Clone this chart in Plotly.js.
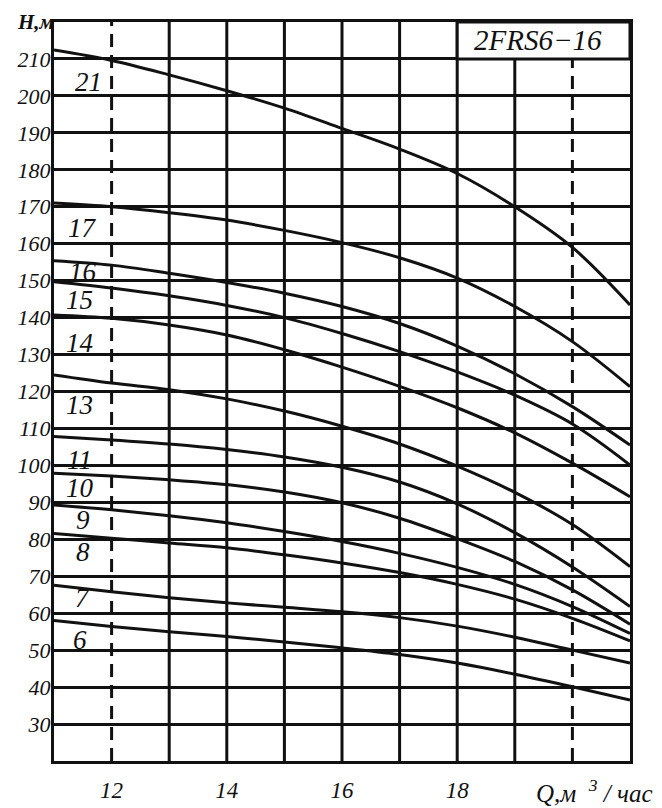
<!DOCTYPE html>
<html>
<head>
<meta charset="utf-8">
<script src="https://cdn.plot.ly/plotly-3.0.1.min.js"></script>
<style>html,body{margin:0;padding:0;background:#fff;}#chart{width:662px;height:808px;}</style>
</head>
<body>
<div id="chart"></div>
<script>
// Flow Q, m3/h
const Q = [11, 12, 13, 14, 15, 16, 17, 18, 19, 20, 21];
// Head H, m for each number of stages
const H21 = [212.4, 209.6, 205.7, 201.4, 196.7, 191.2, 185.6, 179.0, 170.0, 159.0, 143.4];
const H17 = [171.0, 170.0, 168.4, 166.4, 163.6, 160.3, 156.2, 150.7, 143.0, 133.5, 121.3];
const H16 = [155.4, 154.2, 152.0, 149.5, 146.6, 143.0, 138.4, 132.3, 124.8, 115.9, 105.5];
const H15 = [149.7, 148.0, 145.9, 143.3, 140.0, 135.7, 130.8, 125.3, 119.0, 111.2, 100.1];
const H14 = [140.7, 139.8, 138.0, 135.3, 131.3, 126.6, 121.4, 115.6, 108.8, 100.6, 91.5];
const H13 = [124.5, 122.3, 120.5, 118.0, 114.7, 110.6, 105.8, 99.8, 92.7, 84.0, 72.6];
const H11 = [107.8, 106.9, 105.8, 104.3, 102.3, 99.5, 95.5, 89.6, 81.8, 72.5, 61.8];
const H10 = [97.9, 97.1, 96.1, 94.8, 92.8, 89.9, 85.7, 80.2, 74.0, 66.3, 57.0];
const H9  = [89.3, 88.0, 86.4, 84.5, 82.1, 79.4, 76.2, 72.4, 67.8, 61.8, 54.5];
const H8  = [81.6, 80.3, 79.0, 77.7, 75.8, 73.6, 71.0, 67.8, 63.8, 58.6, 52.5];
const H7  = [67.6, 65.8, 64.2, 62.8, 61.6, 60.4, 58.8, 56.5, 53.5, 50.0, 46.5];
const H6  = [58.0, 56.4, 55.0, 53.7, 52.2, 50.6, 48.8, 46.5, 43.5, 40.1, 36.5];

const series = [H21, H17, H16, H15, H14, H13, H11, H10, H9, H8, H7, H6];
const curveNames = ['21', '17', '16', '15', '14', '13', '11', '10', '9', '8', '7', '6'];
// label anchor positions (Q, H)
const labelQ = [11.6, 11.5, 11.5, 11.45, 11.45, 11.45, 11.45, 11.45, 11.5, 11.5, 11.5, 11.45];
const labelH = [203.8, 164.2, 152.3, 144.8, 133.1, 116.3, 101.5, 93.9, 85.2, 76.6, 64.1, 52.8];

const xTicks = [12, 14, 16, 18];
const yTicks = [30, 40, 50, 60, 70, 80, 90, 100, 110, 120, 130, 140, 150, 160, 170, 180, 190, 200, 210];
const solidX = [13, 14, 15, 16, 17, 18, 19];
const dashX = [12, 20];
const title = '2FRS6\u221216';

const FONT = 'Liberation Serif, Times New Roman, serif';

const traces = series.map((h, i) => ({
  x: Q, y: h, type: 'scatter', mode: 'lines', name: curveNames[i],
  line: {color: '#111', width: 3, shape: 'spline', smoothing: 1},
  hoverinfo: 'skip', showlegend: false
}));

const shapes = [];
solidX.forEach(v => shapes.push({type: 'line', xref: 'x', yref: 'paper', x0: v, x1: v, y0: 0, y1: 1,
  line: {color: '#111', width: 3}, layer: 'below'}));
dashX.forEach(v => shapes.push({type: 'line', xref: 'x', yref: 'paper', x0: v, x1: v, y0: 0, y1: 1,
  line: {color: '#111', width: 3, dash: '13px,8px'}, layer: 'below'}));
shapes.push({type: 'rect', xref: 'x', yref: 'y', x0: 18, x1: 21, y0: 210, y1: 220,
  fillcolor: '#fff', line: {color: '#111', width: 3}, layer: 'above'});

const annotations = curveNames.map((n, i) => ({
  x: labelQ[i], y: labelH[i], xref: 'x', yref: 'y', text: n, showarrow: false,
  font: {family: FONT, size: 27, color: '#111', style: 'italic'}
}));
annotations.push({x: 19.4, y: 215, xref: 'x', yref: 'y', text: title, showarrow: false,
  font: {family: FONT, size: 29, color: '#111', style: 'italic'}});
annotations.push({x: 0, y: 1, xref: 'paper', yref: 'paper', xanchor: 'right', yanchor: 'middle',
  xshift: 2, text: 'H,м', showarrow: false,
  font: {family: FONT, size: 21, color: '#111', style: 'italic', weight: 'bold'}});
annotations.push({x: 1, y: 0, xref: 'paper', yref: 'paper', xanchor: 'right', yanchor: 'middle',
  xshift: 24, yshift: -30, text: 'Q,м\u00a0\u00a0<sup>3</sup>\u00a0/\u00a0час', showarrow: false,
  font: {family: FONT, size: 25, color: '#111', style: 'italic'}});

const layout = {
  width: 662, height: 808,
  margin: {l: 54, r: 32, t: 22, b: 47, pad: 0},
  paper_bgcolor: '#fff', plot_bgcolor: '#fff',
  showlegend: false,
  xaxis: {
    range: [11, 21], showgrid: false, zeroline: false,
    tickmode: 'array', tickvals: xTicks, ticktext: xTicks.map(String),
    ticks: '', showline: true, mirror: true, linecolor: '#111', linewidth: 3,
    ticklabelstandoff: 6,
    tickfont: {family: FONT, size: 23, color: '#111', style: 'italic'}
  },
  yaxis: {
    range: [20, 220], showgrid: true, gridcolor: '#111', gridwidth: 3, zeroline: false,
    tickmode: 'array', tickvals: yTicks, ticktext: yTicks.map(String),
    ticks: '', showline: true, mirror: true, linecolor: '#111', linewidth: 3,
    ticklabelstandoff: -4,
    tickfont: {family: FONT, size: 22, color: '#111', style: 'italic'}
  },
  shapes: shapes,
  annotations: annotations
};

Plotly.newPlot('chart', traces, layout, {staticPlot: true, displayModeBar: false});
</script>
</body>
</html>
